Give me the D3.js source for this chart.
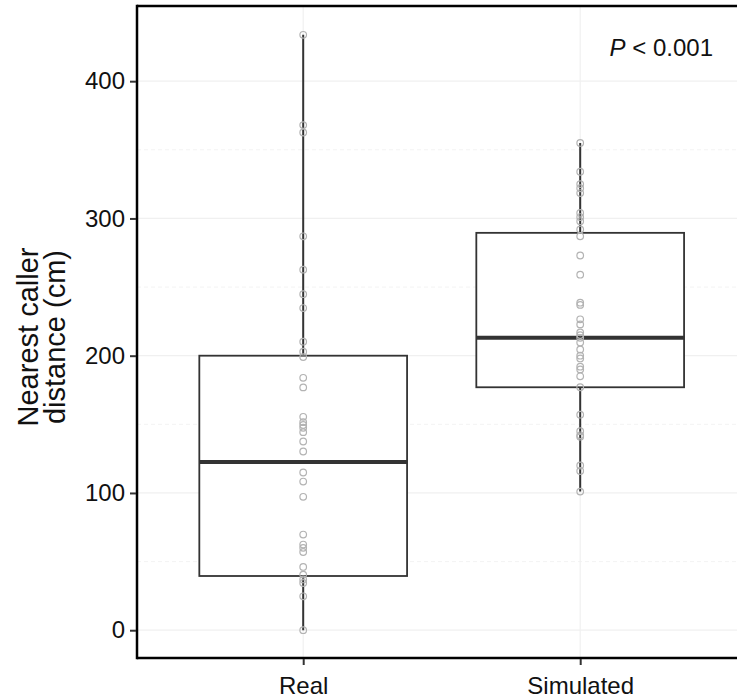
<!DOCTYPE html>
<html>
<head>
<meta charset="utf-8">
<script src="https://cdn.jsdelivr.net/npm/d3@7"></script>
<style>
  body { margin: 0; background: #fff; }
  text { font-family: "Liberation Sans", Arial, Helvetica, sans-serif; fill: #111; }
</style>
</head>
<body>
<div id="chart"></div>
<script>
// categories
var groups = ["Real", "Simulated"];

var realValues = [433.8, 368, 362.6, 287, 262.7, 244.8, 234.7, 210.2, 202.9, 199, 183.9, 176.9,
                  155.5, 151.6, 149.5, 147.5, 144.3, 137.5, 130.2, 114.9, 108.3, 97.2, 69.7, 62.4,
                  60, 57, 46.1, 40.5, 37, 34.4, 24.7, 0];
var simValues  = [355, 334, 325, 322, 318.5, 304, 301, 298, 292, 287, 273, 259, 238.6, 237, 226.5,
                  222.8, 217, 215, 213, 209.6, 204.5, 200, 198, 192, 190, 185, 177, 157, 145,
                  142, 141, 120, 116, 101];

// box statistics per group: lower whisker, Q1, median, Q3, upper whisker
var whiskLow  = [0, 101];
var q1        = [39.5, 177];
var medians   = [122.5, 213];
var q3        = [200, 289.5];
var whiskHigh = [433.8, 355];

var yTicks = [0, 100, 200, 300, 400];
var yMinor = [50, 150, 250, 350];

var width = 737, height = 700;
var panelLeft = 137, panelTop = 6, panelBottom = 658;

var svg = d3.select("#chart").append("svg")
    .attr("width", width)
    .attr("height", height);

// scales (discrete x like ggplot, 0.6 step expansion on each side)
var x = d3.scalePoint()
    .domain(groups)
    .range([panelLeft, 746.4])
    .padding(0.6);
var step = x.step();
var boxW = step * 0.75;

var y = d3.scaleLinear()
    .domain([-21.7, 455.5])
    .range([660, 5]);

// grid
svg.append("g").selectAll("line")
    .data(yMinor).enter().append("line")
    .attr("x1", panelLeft).attr("x2", width)
    .attr("y1", function(d) { return y(d); })
    .attr("y2", function(d) { return y(d); })
    .attr("stroke", "#f3f3f3")
    .attr("stroke-width", 1)
    .attr("stroke-dasharray", "4,3");

svg.append("g").selectAll("line")
    .data(yTicks).enter().append("line")
    .attr("x1", panelLeft).attr("x2", width)
    .attr("y1", function(d) { return y(d); })
    .attr("y2", function(d) { return y(d); })
    .attr("stroke", "#f0f0f0")
    .attr("stroke-width", 1.2);

svg.append("g").selectAll("line")
    .data(groups).enter().append("line")
    .attr("x1", function(d) { return x(d); })
    .attr("x2", function(d) { return x(d); })
    .attr("y1", panelTop).attr("y2", panelBottom)
    .attr("stroke", "#f0f0f0")
    .attr("stroke-width", 1.2);

// boxplots
var boxes = svg.append("g").selectAll("g")
    .data(groups).enter().append("g");

boxes.append("line")
    .attr("x1", function(d) { return x(d); })
    .attr("x2", function(d) { return x(d); })
    .attr("y1", function(d, i) { return y(whiskLow[i]); })
    .attr("y2", function(d, i) { return y(whiskHigh[i]); })
    .attr("stroke", "#333")
    .attr("stroke-width", 2);

boxes.append("rect")
    .attr("x", function(d) { return x(d) - boxW / 2; })
    .attr("width", boxW)
    .attr("y", function(d, i) { return y(q3[i]); })
    .attr("height", function(d, i) { return y(q1[i]) - y(q3[i]); })
    .attr("fill", "#fff")
    .attr("stroke", "#333")
    .attr("stroke-width", 1.8);

boxes.append("line")
    .attr("x1", function(d) { return x(d) - boxW / 2; })
    .attr("x2", function(d) { return x(d) + boxW / 2; })
    .attr("y1", function(d, i) { return y(medians[i]); })
    .attr("y2", function(d, i) { return y(medians[i]); })
    .attr("stroke", "#333")
    .attr("stroke-width", 4);

// points
var series = [realValues, simValues];
series.forEach(function(vals, i) {
  svg.append("g").selectAll("circle")
      .data(vals).enter().append("circle")
      .attr("cx", x(groups[i]))
      .attr("cy", function(d) { return y(d); })
      .attr("r", 3.3)
      .attr("fill", "none")
      .attr("stroke", "#b3b3b3")
      .attr("stroke-width", 1.2);
});

// axis lines
svg.append("line").attr("x1", panelLeft).attr("x2", width).attr("y1", panelTop).attr("y2", panelTop)
    .attr("stroke", "#000").attr("stroke-width", 2.5);
svg.append("line").attr("x1", panelLeft).attr("x2", width).attr("y1", panelBottom).attr("y2", panelBottom)
    .attr("stroke", "#000").attr("stroke-width", 2.5);
svg.append("line").attr("x1", panelLeft).attr("x2", panelLeft)
    .attr("y1", panelTop - 1.25).attr("y2", panelBottom + 1.25)
    .attr("stroke", "#000").attr("stroke-width", 2.5);

// y axis
var yAxis = svg.append("g")
    .attr("transform", "translate(" + (panelLeft - 1) + ",0)")
    .call(d3.axisLeft(y).tickValues(yTicks).tickSize(6).tickPadding(5));
yAxis.select(".domain").remove();
yAxis.selectAll(".tick line").attr("stroke", "#333").attr("stroke-width", 2);
yAxis.selectAll(".tick text")
    .style("font-size", "24px")
    .style("font-family", "Liberation Sans, Arial, sans-serif")
    .attr("fill", "#111");

// x axis
var xAxis = svg.append("g")
    .attr("transform", "translate(0," + (panelBottom + 1) + ")")
    .call(d3.axisBottom(x).tickSize(6).tickPadding(12));
xAxis.select(".domain").remove();
xAxis.selectAll(".tick line").attr("stroke", "#333").attr("stroke-width", 2);
xAxis.selectAll(".tick text")
    .style("font-size", "24px")
    .style("font-family", "Liberation Sans, Arial, sans-serif")
    .attr("fill", "#111");

// y axis title
var title = svg.append("text")
    .attr("transform", "translate(0," + ((panelTop + panelBottom) / 2 + 5) + ") rotate(-90)")
    .attr("text-anchor", "middle")
    .style("font-size", "29px");
title.append("tspan").attr("x", 0).attr("y", 38).text("Nearest caller");
title.append("tspan").attr("x", 0).attr("y", 65).text("distance (cm)");

// annotation
var p = svg.append("text")
    .attr("x", 713)
    .attr("y", 56)
    .attr("text-anchor", "end")
    .style("font-size", "24px");
p.append("tspan").style("font-style", "italic").text("P");
p.append("tspan").text(" < 0.001");
</script>
</body>
</html>
